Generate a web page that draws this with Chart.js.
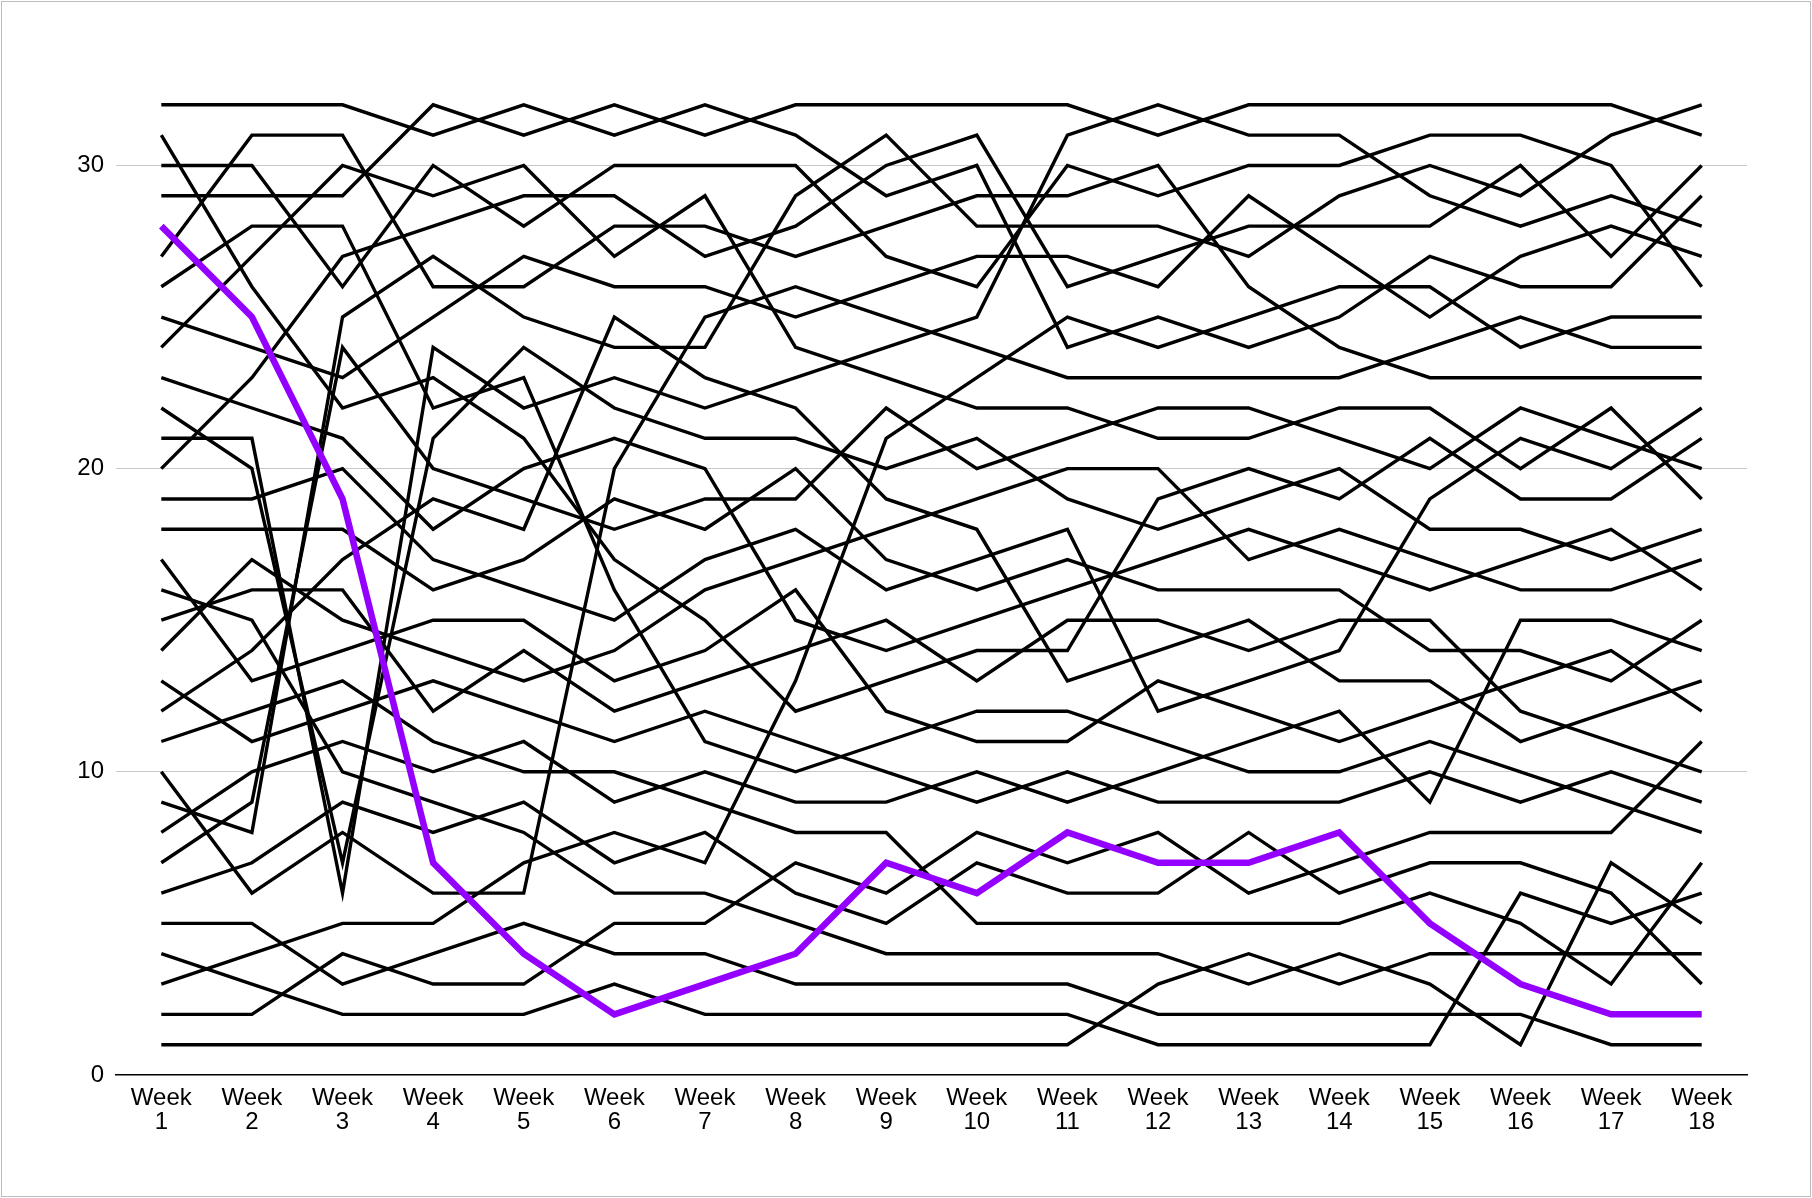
<!DOCTYPE html>
<html><head><meta charset="utf-8">
<style>html,body{margin:0;padding:0;background:#fff;}canvas{display:block;}</style>
<script src="https://cdn.jsdelivr.net/npm/chart.js@4.4.0/dist/chart.umd.min.js"></script>
</head><body>
<canvas id="c" width="1812" height="1198"></canvas>
<script>
const weekLabels = [["Week","1"],["Week","2"],["Week","3"],["Week","4"],["Week","5"],["Week","6"],["Week","7"],["Week","8"],["Week","9"],["Week","10"],["Week","11"],["Week","12"],["Week","13"],["Week","14"],["Week","15"],["Week","16"],["Week","17"],["Week","18"]];
const yTicks = [0, 10, 20, 30];

// highlighted team (purple)
const highlight = [28,25,19,7,4,2,3,4,7,6,8,7,7,8,5,3,2,2];

// other teams (black), named by their week-1 rank
const team32 = [32,32,32,31,32,31,32,31,29,30,24,25,24,25,27,26,26,29];
const team31 = [31,26,22,23,21,17,15,12,13,14,14,19,20,19,21,19,19,21];
const team30 = [30,30,26,30,28,30,30,30,27,26,30,29,30,30,31,31,30,26];
const team29 = [29,29,29,32,31,32,31,32,32,32,32,31,32,32,32,32,32,31];
const team27 = [27,31,31,26,26,28,28,27,28,29,29,30,26,24,23,23,23,23];
const team26 = [26,28,28,22,23,16,11,10,11,12,12,11,10,10,11,10,9,8];
const team25 = [25,24,23,25,27,26,26,25,26,27,27,26,29,27,25,27,28,27];
const team24 = [24,27,30,29,30,27,29,24,23,22,22,21,21,22,22,20,22,19];
const team23 = [23,22,21,18,20,21,20,15,14,15,16,17,18,17,16,17,18,16];
const team22 = [22,20,7,21,24,22,21,21,20,21,19,18,19,20,18,18,17,18];
const team21 = [21,21,6,24,22,23,22,23,24,25,31,32,31,31,29,28,29,28];
const team20 = [20,23,27,28,29,29,27,28,30,31,26,27,28,28,28,30,27,30];
const team19 = [19,19,20,17,16,15,17,18,16,17,18,12,13,14,19,21,20,22];
const team18 = [18,18,18,16,17,19,18,20,17,16,17,16,16,16,14,14,13,15];
const team17 = [17,13,14,15,15,13,14,16,12,11,11,13,12,11,12,13,14,12];
const team16 = [16,15,10,9,8,6,6,5,4,4,4,4,3,4,3,1,7,5];
const team15 = [15,16,16,12,14,12,13,14,15,13,15,15,14,15,15,12,11,10];
const team14 = [14,17,15,14,13,14,16,17,18,19,20,20,17,18,17,16,16,17];
const team13 = [13,11,12,13,12,11,12,11,10,9,10,9,9,9,10,9,10,9];
const team12 = [12,14,17,19,18,25,23,22,19,18,13,14,15,13,13,11,12,13];
const team11 = [11,12,13,11,10,10,9,8,8,5,5,5,5,5,6,5,3,7];
const team10 = [10,6,8,6,6,20,25,26,25,24,23,23,23,23,24,25,24,24];
const team09 = [9,8,25,27,25,24,24,29,31,28,28,28,27,29,30,29,31,32];
const team08 = [8,10,11,10,11,9,10,9,9,10,9,10,11,12,9,15,15,14];
const team07 = [7,9,24,20,19,18,19,19,22,20,21,22,22,21,20,22,21,20];
const team06 = [6,7,9,8,9,7,8,6,5,7,6,6,8,6,7,7,6,3];
const team05 = [5,5,3,4,5,4,4,3,3,3,3,2,2,2,2,2,1,1];
const team04 = [4,3,2,2,2,3,2,2,2,2,2,1,1,1,1,6,5,6];
const team03 = [3,4,5,5,7,8,7,13,21,23,25,24,25,26,26,24,25,25];
const team02 = [2,2,4,3,3,5,5,7,6,8,7,8,6,7,8,8,8,11];
const team01 = [1,1,1,1,1,1,1,1,1,1,1,3,4,3,4,4,4,4];

const blackTeams = [team32,team31,team30,team29,team27,team26,team25,team24,team23,team22,team21,team20,team19,team18,team17,team16,team15,team14,team13,team12,team11,team10,team09,team08,team07,team06,team05,team04,team03,team02,team01];

const datasets = [{data: highlight, borderColor: '#9400ff', borderWidth: 6.5, order: -1}];
blackTeams.forEach(t => datasets.push({data: t, borderColor: '#000000', borderWidth: 3.4, order: 1}));

const frame = {id:'frame', afterDraw(c){const x=c.ctx;x.save();x.strokeStyle='#bdbdbd';x.lineWidth=1;x.strokeRect(1.5,1.5,1809,1195);x.restore();}};

new Chart(document.getElementById('c'), {
  type: 'line',
  data: {labels: weekLabels, datasets},
  options: {
    responsive: false, animation: false, devicePixelRatio: 1,
    elements: {point: {radius: 0}, line: {tension: 0, fill: false, borderJoinStyle: 'miter', borderCapStyle: 'butt'}},
    layout: {padding: {left: 0, right: 65, top: 74.5, bottom: 23}},
    plugins: {legend: {display: false}, tooltip: {enabled: false}},
    scales: {
      x: {offset: true, grid: {display: false, drawTicks: false}, border: {display: true, color: '#000', width: 1.5},
          ticks: {color: '#000', font: {family: 'Liberation Sans, Arial, sans-serif', size: 24, lineHeight: 1.0}, padding: 11, maxRotation: 0, autoSkip: false},
          afterFit(s){ s.height = 100; }},
      y: {min: 0, max: 33, border: {display: false},
          grid: {color: ctx => ctx.tick && ctx.tick.value === 0 ? 'rgba(0,0,0,0)' : '#c8c8c8', lineWidth: 1, drawTicks: false},
          afterBuildTicks(s){ s.ticks = yTicks.map(v => ({value: v})); },
          ticks: {color: '#000', font: {family: 'Liberation Sans, Arial, sans-serif', size: 24}, padding: 12},
          afterFit(s){ s.width = 116; }}
    }
  },
  plugins: [frame]
});
</script>
</body></html>
